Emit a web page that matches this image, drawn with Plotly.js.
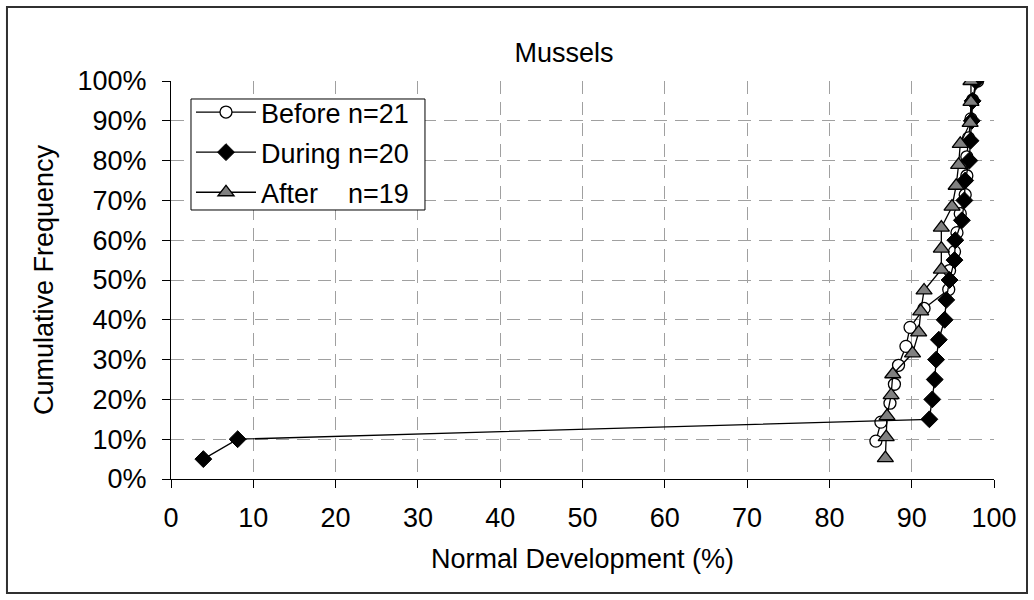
<!DOCTYPE html>
<html>
<head>
<meta charset="utf-8">
<script src="https://cdn.plot.ly/plotly-3.0.1.min.js"></script>
<style>html,body{margin:0;padding:0;background:#fff;}#chart{width:1034px;height:600px;}</style>
</head>
<body>
<div id="chart"></div>
<script>
// Cumulative frequency (fraction) and Normal Development (%) for each series
const beforeName = "Before n=21";
const beforeX = [85.65, 86.26, 87.36, 87.9, 88.4, 89.3, 89.8, 91.5, 94.5, 94.6, 95.2, 95.5, 95.9, 96.5, 96.7, 96.7, 96.9, 97.2, 97.4, 98.0];
const beforeY = [0.0952, 0.1429, 0.1905, 0.2381, 0.2857, 0.3333, 0.3810, 0.4286, 0.4762, 0.5238, 0.5714, 0.6190, 0.6667, 0.7143, 0.7619, 0.8095, 0.8571, 0.9048, 0.9524, 1.0];

const duringName = "During n=20";
const duringX = [3.93, 8.1, 92.15, 92.5, 92.8, 92.97, 93.3, 94.0, 94.2, 94.6, 95.2, 95.3, 96.1, 96.4, 96.5, 97.0, 97.15, 97.3, 97.4, 97.8];
const duringY = [0.05, 0.10, 0.15, 0.20, 0.25, 0.30, 0.35, 0.40, 0.45, 0.50, 0.55, 0.60, 0.65, 0.70, 0.75, 0.80, 0.85, 0.90, 0.95, 1.0];

const afterName = "After\u00a0\u00a0\u00a0\u00a0n=19";
const afterX = [86.8, 86.9, 87.0, 87.5, 87.7, 90.1, 90.85, 91.1, 91.5, 93.6, 93.6, 93.6, 94.9, 95.4, 95.7, 95.9, 97.1, 97.2, 97.2];
const afterY = [0.0526, 0.1053, 0.1579, 0.2105, 0.2632, 0.3158, 0.3684, 0.4211, 0.4737, 0.5263, 0.5789, 0.6316, 0.6842, 0.7368, 0.7895, 0.8421, 0.8947, 0.9474, 1.0];

const chartTitle = "Mussels";
const xTitle = "Normal Development (%)";
const yTitle = "Cumulative Frequency";

const FONT = "Liberation Sans, Arial, sans-serif";

const traces = [
  {x: beforeX, y: beforeY, name: beforeName, legendgroup: "b", type: "scatter", mode: "lines+markers",
   line: {color: "#000", width: 1.3},
   marker: {symbol: "circle", size: 12, color: "#fff", line: {color: "#000", width: 1.3}}},
  {x: duringX, y: duringY, name: duringName, legendgroup: "d", type: "scatter", mode: "lines+markers",
   line: {color: "#000", width: 1.3},
   marker: {symbol: "diamond", size: 13, color: "#000", line: {color: "#000", width: 1}}},
  {x: afterX, y: afterY, name: afterName, legendgroup: "a", type: "scatter", mode: "lines+markers",
   line: {color: "#000", width: 1.3},
   marker: {symbol: "triangle-up", size: 14, color: "#808080", line: {color: "#000", width: 1.3}}}
];

const layout = {
  width: 1034, height: 600,
  margin: {l: 171, r: 40, t: 81, b: 121, pad: 0},
  paper_bgcolor: "#fff", plot_bgcolor: "#fff",
  font: {family: FONT, size: 27, color: "#000"},
  title: {text: chartTitle, font: {family: FONT, size: 27, color: "#000"},
          xref: "paper", x: 0.4775, xanchor: "center", yref: "container", y: 0.912, yanchor: "middle"},
  xaxis: {
    range: [0, 100], dtick: 10, tick0: 0,
    showgrid: true, gridcolor: "#a0a0a0", griddash: "13px,8px", gridwidth: 1,
    showline: true, linecolor: "#000", linewidth: 1, mirror: false,
    ticks: "outside", ticklen: 8, tickcolor: "#000", tickwidth: 1,
    ticklabelstandoff: 7,
    zeroline: false, fixedrange: true,
    tickfont: {family: FONT, size: 27, color: "#000"},
    title: {text: xTitle, font: {family: FONT, size: 27, color: "#000"}, standoff: 16}
  },
  yaxis: {
    range: [0, 1], dtick: 0.1, tick0: 0, tickformat: ".0%",
    showgrid: true, gridcolor: "#a0a0a0", griddash: "13px,8px", gridwidth: 1,
    showline: true, linecolor: "#000", linewidth: 1,
    ticks: "outside", ticklen: 8, tickcolor: "#000", tickwidth: 1,
    ticklabelstandoff: 10,
    zeroline: false, fixedrange: true,
    tickfont: {family: FONT, size: 27, color: "#000"},
    title: {text: yTitle, font: {family: FONT, size: 27, color: "#000"}, standoff: 16}
  },
  legend: {
    x: 0.0243, y: 0.9824, xanchor: "left", yanchor: "top",
    bgcolor: "rgba(0,0,0,0)", borderwidth: 0,
    font: {family: FONT, size: 27, color: "#000"},
    itemwidth: 60, tracegroupgap: 2
  },
  showlegend: true,
  shapes: [
    {type: "rect", xref: "paper", yref: "paper",
     x0: -0.1993, x1: 1.0401, y0: -0.2864, y1: 1.186,
     line: {color: "#303030", width: 2}, fillcolor: "rgba(0,0,0,0)", layer: "below"},
    {type: "rect", xref: "paper", yref: "paper",
     x0: 0.0243, x1: 0.3086, y0: 0.6759, y1: 0.9548,
     line: {color: "#000", width: 1}, fillcolor: "#fff", layer: "above"}
  ]
};

Plotly.newPlot("chart", traces, layout, {staticPlot: true, displayModeBar: false});
</script>
</body>
</html>
